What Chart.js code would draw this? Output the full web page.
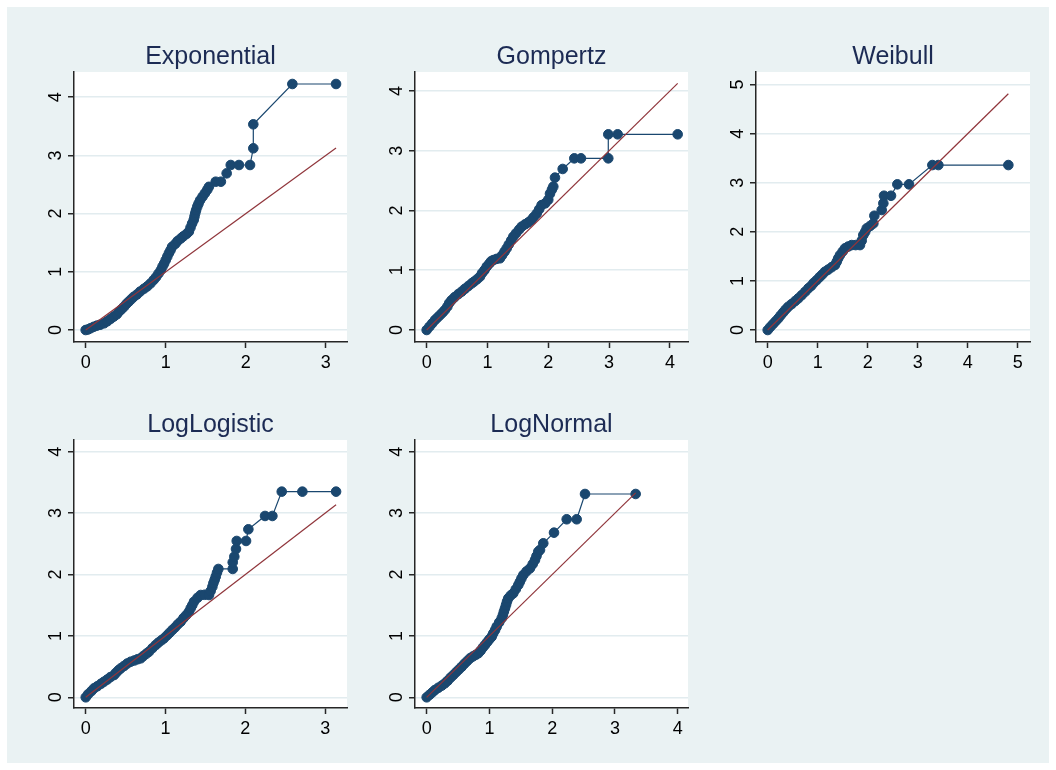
<!DOCTYPE html>
<html>
<head>
<meta charset="utf-8">
<script src="https://cdn.jsdelivr.net/npm/chart.js@4.4.1/dist/chart.umd.min.js"></script>
<style>
html,body{margin:0;padding:0;background:#ffffff;}
#wrap{position:relative;width:1056px;height:770px;overflow:hidden;}
#bg{position:absolute;left:7px;top:7px;width:1042px;height:756px;background:#eaf2f3;}
#wrap canvas{position:absolute;left:0;top:0;}
</style>
</head>
<body>
<div id="wrap"><div id="bg"></div></div>
<script>
// ---------- data ----------
const titles = ["Exponential", "Gompertz", "Weibull", "LogLogistic", "LogNormal"];

const expX = [0, 0.03, 0.06, 0.10, 0.14, 0.18, 0.23, 0.27, 0.31, 0.35, 0.39, 0.42, 0.45, 0.48, 0.51, 0.54, 0.57, 0.60, 0.64, 0.68, 0.73, 0.77, 0.81, 0.85, 0.88, 0.91, 0.94, 0.96, 0.98, 1.00, 1.02, 1.04, 1.06, 1.08, 1.12, 1.15, 1.19, 1.22, 1.26, 1.29, 1.31, 1.33, 1.35, 1.36, 1.37, 1.38, 1.395, 1.41, 1.43, 1.46, 1.49, 1.52, 1.54, 1.625, 1.69, 1.762, 1.813, 1.916, 2.054, 2.095, 2.095, 2.583, 3.129];
const expY = [0, 0.01, 0.03, 0.055, 0.075, 0.09, 0.115, 0.15, 0.19, 0.23, 0.27, 0.32, 0.36, 0.40, 0.45, 0.49, 0.53, 0.57, 0.61, 0.66, 0.71, 0.75, 0.80, 0.86, 0.91, 0.97, 1.03, 1.09, 1.14, 1.20, 1.26, 1.32, 1.37, 1.43, 1.48, 1.53, 1.575, 1.61, 1.65, 1.69, 1.76, 1.83, 1.89, 1.95, 2.01, 2.06, 2.12, 2.17, 2.23, 2.29, 2.35, 2.41, 2.46, 2.548, 2.548, 2.692, 2.835, 2.835, 2.835, 3.122, 3.534, 4.227, 4.227];
const expRef = [0, 3.129];

const gomX = [0, 0.045, 0.09, 0.137, 0.18, 0.22, 0.26, 0.30, 0.34, 0.37, 0.41, 0.46, 0.52, 0.575, 0.63, 0.685, 0.74, 0.78, 0.83, 0.877, 0.91, 0.95, 0.987, 1.03, 1.06, 1.095, 1.15, 1.206, 1.24, 1.28, 1.316, 1.35, 1.39, 1.425, 1.47, 1.52, 1.5625, 1.62, 1.67, 1.72, 1.76, 1.81, 1.85, 1.89, 1.95, 2.0, 2.028, 2.06, 2.083, 2.11, 2.237, 2.428, 2.538, 2.987, 2.987, 3.141, 4.128];
const gomY = [0, 0.055, 0.11, 0.167, 0.21, 0.25, 0.29, 0.335, 0.39, 0.45, 0.50, 0.55, 0.60, 0.642, 0.69, 0.735, 0.78, 0.81, 0.85, 0.893, 0.95, 1.0, 1.06, 1.11, 1.15, 1.17, 1.19, 1.20, 1.25, 1.31, 1.367, 1.43, 1.50, 1.562, 1.62, 1.68, 1.73, 1.77, 1.80, 1.84, 1.89, 1.95, 2.02, 2.09, 2.12, 2.18, 2.28, 2.35, 2.40, 2.55, 2.695, 2.873, 2.873, 2.873, 3.275, 3.275, 3.275];
const gomRef = [0, 4.128];

const weiX = [0, 0.05, 0.105, 0.16, 0.213, 0.26, 0.31, 0.36, 0.413, 0.48, 0.55, 0.613, 0.68, 0.75, 0.813, 0.87, 0.92, 0.98, 1.04, 1.09, 1.146, 1.21, 1.28, 1.346, 1.38, 1.41, 1.446, 1.50, 1.546, 1.61, 1.68, 1.76, 1.846, 1.88, 1.912, 1.95, 1.98, 2.05, 2.113, 2.133, 2.28, 2.313, 2.326, 2.466, 2.593, 2.826, 3.293, 3.413, 4.813];
const weiY = [0, 0.06, 0.12, 0.18, 0.238, 0.30, 0.36, 0.42, 0.475, 0.53, 0.59, 0.645, 0.71, 0.78, 0.849, 0.90, 0.96, 1.018, 1.08, 1.13, 1.188, 1.23, 1.28, 1.324, 1.39, 1.46, 1.527, 1.60, 1.664, 1.70, 1.73, 1.73, 1.73, 1.82, 1.935, 2.0, 2.07, 2.12, 2.17, 2.328, 2.444, 2.58, 2.735, 2.735, 2.967, 2.967, 3.36, 3.36, 3.36];
const weiRef = [0, 4.813];

const llX = [0, 0.03, 0.07, 0.104, 0.145, 0.19, 0.229, 0.27, 0.31, 0.355, 0.38, 0.41, 0.439, 0.48, 0.52, 0.564, 0.61, 0.65, 0.689, 0.72, 0.76, 0.793, 0.835, 0.877, 0.91, 0.95, 0.981, 1.02, 1.05, 1.085, 1.12, 1.155, 1.19, 1.225, 1.26, 1.294, 1.315, 1.335, 1.357, 1.40, 1.441, 1.49, 1.545, 1.565, 1.587, 1.60, 1.615, 1.629, 1.645, 1.662, 1.842, 1.842, 1.862, 1.883, 1.892, 2.009, 2.038, 2.247, 2.339, 2.456, 2.715, 3.137];
const llY = [0, 0.05, 0.10, 0.147, 0.18, 0.22, 0.254, 0.29, 0.33, 0.363, 0.40, 0.44, 0.472, 0.51, 0.55, 0.58, 0.60, 0.62, 0.635, 0.67, 0.71, 0.743, 0.80, 0.852, 0.89, 0.93, 0.961, 1.01, 1.05, 1.096, 1.14, 1.19, 1.231, 1.29, 1.34, 1.394, 1.45, 1.50, 1.557, 1.62, 1.666, 1.67, 1.666, 1.73, 1.80, 1.86, 1.91, 1.964, 2.03, 2.09, 2.09, 2.198, 2.29, 2.415, 2.546, 2.546, 2.736, 2.953, 2.953, 3.349, 3.349, 3.349];
const llRef = [0, 3.137];

const lnX = [0, 0.045, 0.09, 0.132, 0.185, 0.24, 0.29, 0.335, 0.38, 0.424, 0.47, 0.515, 0.558, 0.60, 0.645, 0.69, 0.735, 0.78, 0.822, 0.86, 0.895, 0.929, 0.965, 1.0, 1.036, 1.06, 1.09, 1.115, 1.155, 1.195, 1.215, 1.23, 1.248, 1.265, 1.28, 1.30, 1.34, 1.38, 1.42, 1.46, 1.485, 1.51, 1.54, 1.59, 1.646, 1.69, 1.726, 1.75, 1.778, 1.806, 1.858, 2.029, 2.231, 2.39, 2.523, 3.33];
const lnY = [0, 0.04, 0.08, 0.119, 0.155, 0.19, 0.228, 0.27, 0.32, 0.363, 0.41, 0.455, 0.498, 0.545, 0.59, 0.635, 0.665, 0.69, 0.717, 0.76, 0.81, 0.852, 0.90, 0.945, 0.987, 1.04, 1.095, 1.15, 1.22, 1.287, 1.34, 1.395, 1.45, 1.505, 1.56, 1.612, 1.66, 1.694, 1.76, 1.829, 1.88, 1.935, 1.992, 2.05, 2.10, 2.17, 2.236, 2.30, 2.371, 2.40, 2.508, 2.681, 2.899, 2.899, 3.311, 3.311];
const lnRef = [0, 3.33];

const ticks0to3 = [0, 1, 2, 3];
const ticks0to4 = [0, 1, 2, 3, 4];
const ticks0to5 = [0, 1, 2, 3, 4, 5];

// ---------- layout / styling ----------
const W = 1056, H = 770;
const XAXIS_H = 36;
const FONT = '"Liberation Sans", Arial, Helvetica, sans-serif';
const NAVY = '#1a476f', MAROON = '#90353b', AXIS = '#262626';

const panels = [
  { title: titles[0], xs: expX, ys: expY, ref: expRef, xt: ticks0to3, yt: ticks0to4,
    xr: [-0.146, 3.266], yr: [-0.206, 4.433], area: [74, 72, 347, 342] },
  { title: titles[1], xs: gomX, ys: gomY, ref: gomRef, xt: ticks0to4, yt: ticks0to4,
    xr: [-0.192, 4.298], yr: [-0.201, 4.318], area: [415, 72, 688, 342] },
  { title: titles[2], xs: weiX, ys: weiY, ref: weiRef, xt: ticks0to5, yt: ticks0to5,
    xr: [-0.234, 5.246], yr: [-0.244, 5.255], area: [756, 72, 1030, 342] },
  { title: titles[3], xs: llX, ys: llY, ref: llRef, xt: ticks0to3, yt: ticks0to4,
    xr: [-0.147, 3.274], yr: [-0.174, 4.19], area: [74, 440, 347, 708] },
  { title: titles[4], xs: lnX, ys: lnY, ref: lnRef, xt: ticks0to4, yt: ticks0to4,
    xr: [-0.186, 4.164], yr: [-0.174, 4.19], area: [415, 440, 688, 708] }
];

const panelPlugin = {
  id: 'panel',
  beforeDraw(chart) {
    const a = chart.chartArea, ctx = chart.ctx;
    ctx.save();
    ctx.fillStyle = '#ffffff';
    ctx.fillRect(a.left, a.top, a.right - a.left, a.bottom - a.top);
    ctx.restore();
  },
  afterDraw(chart, args, opts) {
    const a = chart.chartArea, ctx = chart.ctx, ys = chart.scales.y;
    ctx.save();
    ctx.fillStyle = '#000000';
    ctx.font = '18px ' + FONT;
    ctx.textAlign = 'center';
    ctx.textBaseline = 'alphabetic';
    for (const v of opts.yTicks) {
      const py = ys.getPixelForValue(v);
      ctx.save();
      ctx.translate(a.left - 13.5, py);
      ctx.rotate(-Math.PI / 2);
      ctx.fillText(String(v), 0, 0);
      ctx.restore();
    }
    ctx.fillStyle = '#1c2b54';
    ctx.font = '25px ' + FONT;
    ctx.textAlign = 'center';
    ctx.fillText(opts.title, (a.left + a.right) / 2, a.top - 8);
    ctx.restore();
  }
};

const wrap = document.getElementById('wrap');
panels.forEach(p => {
  const cv = document.createElement('canvas');
  cv.width = W; cv.height = H;
  cv.style.width = W + 'px'; cv.style.height = H + 'px';
  wrap.appendChild(cv);
  new Chart(cv, {
    type: 'scatter',
    data: {
      datasets: [
        { data: p.ref.map(v => ({ x: v, y: v })), showLine: true, borderColor: MAROON,
          borderWidth: 1.2, pointRadius: 0, pointHoverRadius: 0, fill: false },
        { data: p.xs.map((x, i) => ({ x: x, y: p.ys[i] })), showLine: true,
          borderColor: NAVY, borderWidth: 1.2, backgroundColor: NAVY,
          pointRadius: 4.8, pointBorderWidth: 1, pointBorderColor: NAVY,
          pointBackgroundColor: NAVY, pointHoverRadius: 4.8, fill: false }
      ]
    },
    options: {
      responsive: false, animation: false, devicePixelRatio: 1, events: [],
      layout: { padding: { left: p.area[0], top: p.area[1], right: W - p.area[2], bottom: H - p.area[3] - XAXIS_H } },
      plugins: {
        legend: { display: false }, tooltip: { enabled: false }, title: { display: false },
        panel: { title: p.title, yTicks: p.yt }
      },
      scales: {
        x: {
          type: 'linear', min: p.xr[0], max: p.xr[1],
          afterFit: s => { s.height = XAXIS_H; },
          afterBuildTicks: s => { s.ticks = p.xt.map(v => ({ value: v })); },
          border: { display: true, color: AXIS, width: 1.5 },
          grid: { drawOnChartArea: false, drawTicks: true, tickLength: 6, tickColor: AXIS, tickWidth: 1.5 },
          ticks: { color: '#000000', font: { family: FONT, size: 18 }, padding: 4,
                   maxRotation: 0, minRotation: 0, autoSkip: false }
        },
        y: {
          type: 'linear', min: p.yr[0], max: p.yr[1],
          afterFit: s => { s.width = 0; },
          afterBuildTicks: s => { s.ticks = p.yt.map(v => ({ value: v })); },
          border: { display: true, color: AXIS, width: 1.5 },
          grid: { color: '#e2ecef', lineWidth: 1.5, drawTicks: true, tickLength: 6,
                  tickColor: AXIS, tickWidth: 1.5 },
          ticks: { display: false }
        }
      }
    },
    plugins: [panelPlugin]
  });
});
</script>
</body>
</html>
